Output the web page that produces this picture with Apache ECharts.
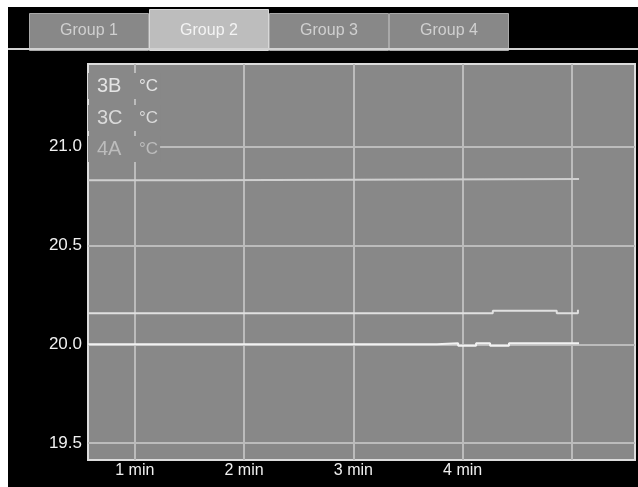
<!DOCTYPE html>
<html>
<head>
<meta charset="utf-8">
<script src="https://cdn.jsdelivr.net/npm/echarts@6/dist/echarts.min.js"></script>
<style>
    html, body { margin: 0; padding: 0; background: #fff; }
    #chart { width: 638px; height: 487px; }
</style>
</head>
<body>
<div id="chart"></div>
<script>
    // 分组标签
    const groupNames = ['Group 1', 'Group 2', 'Group 3', 'Group 4']
    const activeGroup = 1
    // 传感器（图例）
    const sensorNames = ['3B', '3C', '4A']
    const unit = '°C'
    // 各传感器数据：时间(min) / 温度
    const times3B = [0.572, 3.764, 3.959, 4.123, 4.251, 4.424, 5.065]
    const temps3B = [20.0, 20.005, 19.993, 20.005, 19.993, 20.005, 20.005]
    const times3C = [0.572, 4.276, 4.861, 5.055]
    const temps3C = [20.157, 20.170, 20.157, 20.175]
    const times4A = [0.572, 1.555, 5.065]
    const temps4A = [20.83, 20.837, 20.837]
    // 坐标轴
    const timeRange = [0.572, 5.577]
    const tempRange = [19.414, 21.419]
    const timeTicks = [1, 2, 3, 4, 5]
    const timeLabels = [1, 2, 3, 4]
    const tempTicks = [19.5, 20.0, 20.5, 21.0]

    const font = 'Liberation Sans, Arial, sans-serif'
    const lineColors = ['#f2f2f2', '#e0e0e0', '#cfcfcf']
    const legendColors = ['#e4e4e4', '#dadada', '#bcbcbc']
    const legendTops = [73, 105, 136]

    const zip = (xs, ys) => xs.map((x, i) => [x, ys[i]])
    const seriesData = [zip(times3B, temps3B), zip(times3C, temps3C), zip(times4A, temps4A)]

    // 顶部分组标签
    const tabs = []
    groupNames.forEach((name, i) => {
        const active = i === activeGroup
        const top = active ? 9 : 13
        tabs.push({
            type: 'group',
            left: 29 + i * 120,
            top: top,
            z: active ? 12 : 11,
            children: [{
                type: 'rect',
                shape: { x: 0.5, y: 0.5, width: 119, height: 50 - top },
                style: { fill: active ? '#bdbdbd' : '#888', stroke: active ? '#d8d8d8' : '#a9a9a9', lineWidth: 1 }
            }, {
                type: 'text',
                style: {
                    x: 60, y: 31 - top, text: name, align: 'center', verticalAlign: 'middle',
                    fill: active ? '#f4f4f4' : '#d0d0d0', font: '16px ' + font
                }
            }]
        })
    })

    const chart = echarts.init(document.getElementById('chart'))
    chart.setOption({
        backgroundColor: '#000',
        animation: false,
        grid: {
            left: 88, right: 3, top: 64, bottom: 27,
            show: true, backgroundColor: '#888', borderColor: '#dcdcdc', borderWidth: 2
        },
        graphic: [
            { type: 'rect', left: 0, top: 0, z: 20, shape: { width: 638, height: 7 }, style: { fill: '#fff' } },
            { type: 'rect', left: 0, top: 0, z: 20, shape: { width: 8, height: 487 }, style: { fill: '#fff' } },
            { type: 'rect', left: 8, top: 48, z: 10, shape: { width: 630, height: 2 }, style: { fill: '#d2d2d2' } }
        ].concat(tabs),
        legend: sensorNames.map((name, i) => ({
            data: [name],
            left: 88,
            top: legendTops[i],
            selectedMode: false,
            itemWidth: 0,
            itemHeight: 0,
            padding: [3, 2, 3, 3],
            backgroundColor: '#888',
            formatter: n => '{n|' + n + '}{u|' + unit + '}',
            textStyle: {
                rich: {
                    n: { fontSize: 20, fontFamily: font, color: legendColors[i], width: 42, lineHeight: 22 },
                    u: { fontSize: 17, fontFamily: font, color: legendColors[i], lineHeight: 22 }
                }
            }
        })),
        xAxis: {
            type: 'value',
            min: timeRange[0],
            max: timeRange[1],
            axisLine: { show: false },
            axisTick: { show: false, customValues: timeTicks },
            axisLabel: {
                customValues: timeLabels,
                formatter: v => v + ' min',
                color: '#f0f0f0', fontSize: 16, fontFamily: font, margin: 3
            },
            splitLine: { show: true, lineStyle: { color: '#bcbcbc', width: 2 } }
        },
        yAxis: {
            type: 'value',
            min: tempRange[0],
            max: tempRange[1],
            axisLine: { show: false },
            axisTick: { show: false, customValues: tempTicks },
            axisLabel: {
                customValues: tempTicks,
                formatter: v => v.toFixed(1),
                color: '#f0f0f0', fontSize: 17, fontFamily: font, margin: 6
            },
            splitLine: { show: true, lineStyle: { color: '#bcbcbc', width: 2 } }
        },
        series: sensorNames.map((name, i) => ({
            name: name,
            type: 'line',
            step: 'end',
            showSymbol: false,
            data: seriesData[i],
            lineStyle: { color: lineColors[i], width: 2 },
            itemStyle: { color: lineColors[i] }
        }))
    })
</script>
</body>
</html>
